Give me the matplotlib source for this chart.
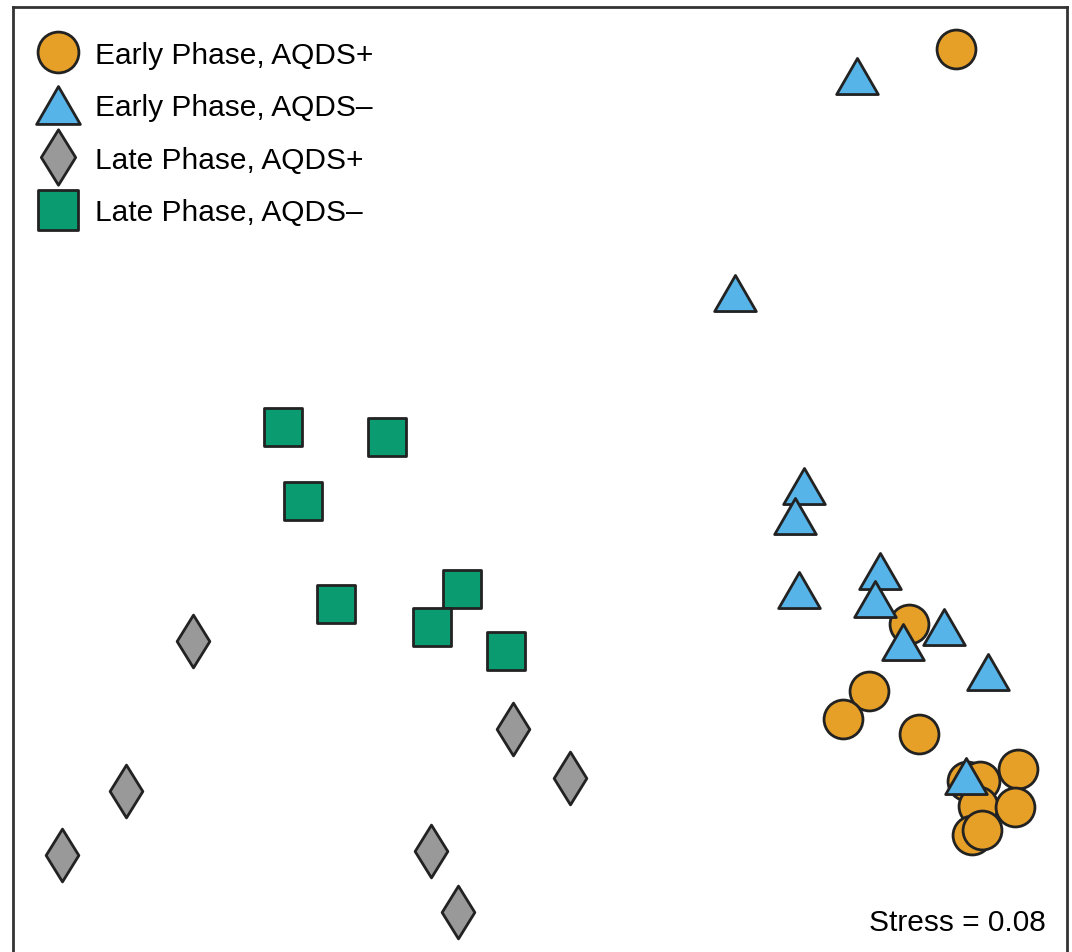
import matplotlib
matplotlib.use("Agg")
import matplotlib.pyplot as plt
from matplotlib.path import Path
from matplotlib.markers import MarkerStyle

plt.rcParams['font.family'] = ['Liberation Sans', 'DejaVu Sans']

# NMDS ordination scores per group
early_pos_x = [0.832, 0.738, 0.658, 0.606, 0.758, 0.854, 0.880, 0.956, 0.876, 0.950, 0.864, 0.884]
early_pos_y = [0.860, -0.290, -0.424, -0.480, -0.510, -0.604, -0.604, -0.580, -0.654, -0.656, -0.712, -0.702]

early_neg_x = [0.634, 0.390, 0.528, 0.510, 0.518, 0.680, 0.670, 0.726, 0.808, 0.896, 0.852]
early_neg_y = [0.806, 0.372, -0.014, -0.074, -0.222, -0.184, -0.240, -0.326, -0.296, -0.386, -0.594]

late_pos_x = [-0.694, -0.054, 0.060, -0.828, -0.956, -0.218, -0.164]
late_pos_y = [-0.324, -0.500, -0.598, -0.624, -0.752, -0.744, -0.866]

late_neg_x = [-0.514, -0.306, -0.474, -0.408, -0.156, -0.216, -0.068]
late_neg_y = [0.104, 0.084, -0.044, -0.250, -0.220, -0.296, -0.344]

labels = ["Early Phase, AQDS+", "Early Phase, AQDS\u2013",
          "Late Phase, AQDS+", "Late Phase, AQDS\u2013"]
stress = 0.08


def closed_marker(verts):
    path = Path(verts + [verts[0]], closed=True)
    return MarkerStyle(path, joinstyle='miter')


tri = closed_marker([(0, 0.866), (-1, -0.866), (1, -0.866)])
diamond = closed_marker([(0, 1), (0.62, 0), (0, -1), (-0.62, 0)])
square = closed_marker([(-1, -1), (1, -1), (1, 1), (-1, 1)])

edge = '#222222'
lw = 2.0

fig = plt.figure(figsize=(10.72, 9.53), dpi=100)
ax = fig.add_axes([0.0121, -0.02, 0.9832, 1.0116])

h1, = ax.plot(early_pos_x, early_pos_y, 'o', ms=28, mfc='#E6A028', mec=edge, mew=lw,
              ls='none', zorder=3, label=labels[0])
h2, = ax.plot(early_neg_x, early_neg_y, marker=tri, ms=30, mfc='#56B4E9', mec=edge, mew=lw,
              ls='none', zorder=4, label=labels[1])
h3, = ax.plot(late_pos_x, late_pos_y, marker=diamond, ms=38, mfc='#999999', mec=edge, mew=lw,
              ls='none', zorder=3, label=labels[2])
h4, = ax.plot(late_neg_x, late_neg_y, marker=square, ms=28, mfc='#0A9B70', mec=edge, mew=lw,
              ls='none', zorder=3, label=labels[3])

ax.set_xlim(-1.054, 1.054)
ax.set_ylim(-0.984, 0.944)
ax.set_xticks([])
ax.set_yticks([])
for side in ax.spines.values():
    side.set_linewidth(2.0)
    side.set_color('#333333')

ax.legend(handles=[h1, h2, h3, h4], loc='upper left', bbox_to_anchor=(0.0285, 0.9652),
          frameon=False, fontsize=21.5, handlelength=1.0, handletextpad=0.75,
          labelspacing=0.82, borderaxespad=0, borderpad=0.0, markerscale=1.05)

ax.text(0.980, 0.0508, f"Stress = {stress:.2f}", transform=ax.transAxes,
        ha='right', va='center', fontsize=21.5)

fig.savefig('out.png', dpi=100)
